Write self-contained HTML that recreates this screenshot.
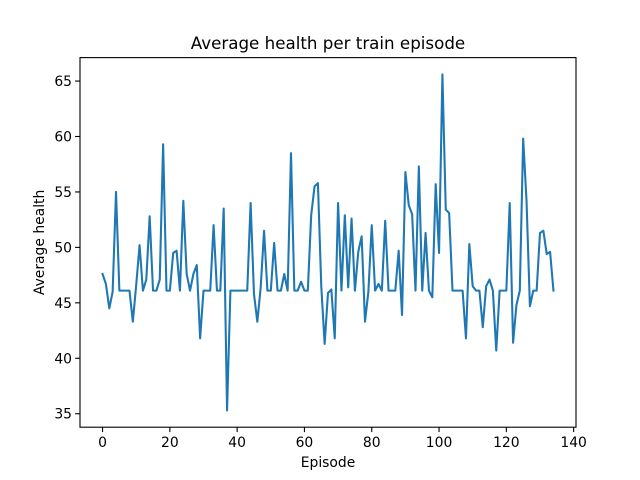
<!DOCTYPE html>
<html><head><meta charset="utf-8"><style>
html,body{margin:0;padding:0;background:#fff;}
svg{display:block;font-family:"DejaVu Sans","Liberation Sans",sans-serif;}
</style></head><body>
<svg id="chart" width="640" height="480" viewBox="0 0 640 480">
<rect width="640" height="480" fill="#fff"/>
<text x="328" y="49" font-size="16.7" text-anchor="middle">Average health per train episode</text>
<g id="axes"></g>
<text x="328" y="467" font-size="13.9" text-anchor="middle">Episode</text>
<text transform="translate(44,242.4) rotate(-90)" font-size="13.9" text-anchor="middle">Average health</text>
</svg>
<script>
const values = [47.6,46.7,44.5,46.0,55.0,46.1,46.1,46.1,46.1,43.3,46.6,50.2,46.1,47.1,52.8,46.1,46.1,47.1,59.3,46.1,46.1,49.5,49.7,46.1,54.2,47.6,46.1,47.6,48.4,41.8,46.1,46.1,46.1,52.0,46.1,46.1,53.5,35.3,46.1,46.1,46.1,46.1,46.1,46.1,54.0,45.8,43.3,46.4,51.5,46.1,46.1,50.4,46.1,46.1,47.6,46.1,58.5,46.1,46.1,46.9,46.1,46.1,52.9,55.5,55.8,46.5,41.3,45.9,46.2,41.8,54.0,46.1,52.9,46.4,52.6,46.1,49.6,51.0,43.3,46.0,52.0,46.1,46.7,46.1,52.4,46.1,46.1,46.1,49.7,43.9,56.8,53.8,53.0,46.1,57.3,46.1,51.3,46.1,45.5,55.7,49.5,65.6,53.4,53.1,46.1,46.1,46.1,46.1,41.8,50.3,46.5,46.1,46.1,42.8,46.5,47.1,46.1,40.7,46.1,46.1,46.1,54.0,41.4,44.8,46.1,59.8,54.2,44.7,46.1,46.1,51.3,51.5,49.4,49.6,46.1];
const xTicks = [0,20,40,60,80,100,120,140];
const yTicks = [35,40,45,50,55,60,65];
const L=80,R=576,T=57.6,B=427.2;
const n=values.length;
const xmin=-0.05*(n-1), xmax=(n-1)*1.05;
const vmin=Math.min(...values), vmax=Math.max(...values), pad=(vmax-vmin)*0.05;
const ymin=vmin-pad, ymax=vmax+pad;
const sx=v=>L+(v-xmin)/(xmax-xmin)*(R-L);
const sy=v=>B-(v-ymin)/(ymax-ymin)*(B-T);
const NS='http://www.w3.org/2000/svg';
const g=document.getElementById('axes');
function mk(tag,attrs){const e=document.createElementNS(NS,tag);for(const k in attrs)e.setAttribute(k,attrs[k]);g.appendChild(e);return e;}
const pts=values.map((v,i)=>sx(i).toFixed(2)+','+sy(v).toFixed(2)).join(' ');
const line=mk('polyline',{points:pts,fill:'none',stroke:'#1f77b4','stroke-width':2.08,'stroke-linejoin':'round','stroke-linecap':'square'});


const frame=mk('rect',{x:L,y:T,width:R-L,height:B-T,fill:'none',stroke:'#000','stroke-width':1.1});


xTicks.forEach(t=>{
  const x=sx(t);
  const tk=mk('line',{x1:x,x2:x,y1:B,y2:B+4.9,stroke:'#000','stroke-width':1.1});
  
  
  const lb=mk('text',{x:x,y:B+20,'font-size':13.9,'text-anchor':'middle'});
  lb.textContent=t;
  
  
});
yTicks.forEach(t=>{
  const y=sy(t);
  const tk=mk('line',{x1:L-4.9,x2:L,y1:y,y2:y,stroke:'#000','stroke-width':1.1});
  
  
  const lb=mk('text',{x:L-8,y:y+5,'font-size':13.9,'text-anchor':'end'});
  lb.textContent=t;
  
  
});
</script>
</body></html>
